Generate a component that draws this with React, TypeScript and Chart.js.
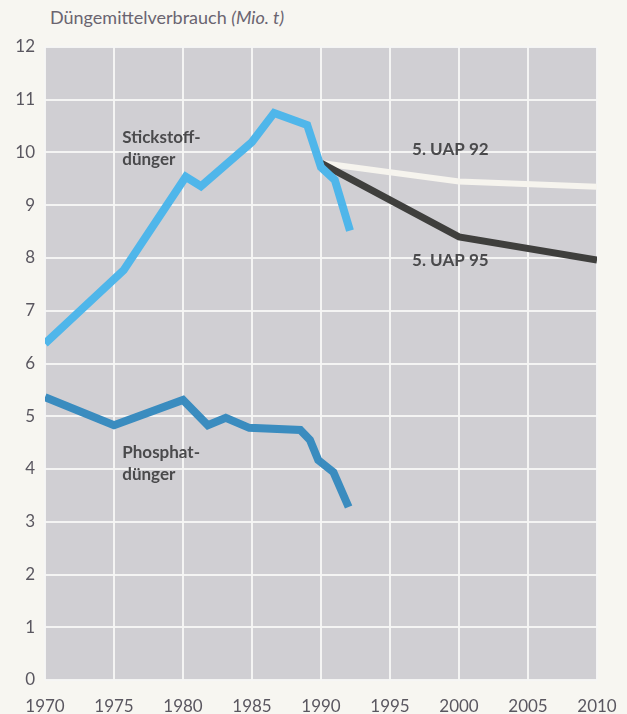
import React, { useEffect, useRef } from "react";
import { Chart, registerables } from "chart.js";

Chart.register(...registerables);

const xTicks = [1970, 1975, 1980, 1985, 1990, 1995, 2000, 2005, 2010];
const yTicks = [0, 1, 2, 3, 4, 5, 6, 7, 8, 9, 10, 11, 12];

const stickYears = [1970, 1975.7, 1980.2, 1981.3, 1985, 1986.6, 1989, 1990, 1991, 1992.1];
const stickValues = [6.38, 7.77, 9.54, 9.36, 10.2, 10.75, 10.52, 9.72, 9.48, 8.52];

const phosYears = [1970, 1975, 1980, 1981.8, 1983.1, 1984.8, 1988.5, 1989.2, 1989.8, 1990.9, 1992];
const phosValues = [5.36, 4.83, 5.31, 4.83, 4.97, 4.78, 4.74, 4.55, 4.17, 3.94, 3.28];

const uap92Years = [1990, 2000, 2010];
const uap92Values = [9.8, 9.45, 9.35];

const uap95Years = [1990, 2000, 2010];
const uap95Values = [9.8, 8.4, 7.96];

const toPoints = (xs: number[], ys: number[]) => xs.map((x, i) => ({ x, y: ys[i] }));

const bgPlugin = {
  id: "plotBg",
  beforeDraw(chart: any) {
    const { ctx, chartArea } = chart;
    ctx.save();
    ctx.fillStyle = "#d0cfd3";
    ctx.fillRect(chartArea.left, chartArea.top, chartArea.right - chartArea.left, chartArea.bottom - chartArea.top);
    ctx.restore();
  },
};

const labelPlugin = {
  id: "seriesLabels",
  afterDatasetsDraw(chart: any) {
    const { ctx, scales } = chart;
    const xs = scales.x;
    const ys = scales.y;
    const labels: [string, number, number][] = [
      ["Stickstoff-", 1975.6, 10.29],
      ["dünger", 1975.6, 9.86],
      ["Phosphat-", 1975.6, 4.32],
      ["dünger", 1975.6, 3.89],
      ["5. UAP 92", 1996.6, 10.05],
      ["5. UAP 95", 1996.6, 7.96],
    ];
    ctx.save();
    ctx.font = "bold 17px Lato";
    ctx.fillStyle = "#4a4a4c";
    ctx.textAlign = "left";
    ctx.textBaseline = "middle";
    for (const [t, x, y] of labels) {
      ctx.fillText(t, xs.getPixelForValue(x), ys.getPixelForValue(y));
    }
    ctx.restore();
  },
};

export default function App() {
  const ref = useRef<HTMLCanvasElement | null>(null);

  useEffect(() => {
    if (!ref.current) return;
    const chart = new Chart(ref.current, {
      type: "line",
      data: {
        datasets: [
          {
            label: "Stickstoffdünger",
            data: toPoints(stickYears, stickValues),
            borderColor: "#4fb6ea",
            borderWidth: 8,
            pointRadius: 0,
            order: 0,
          },
          {
            label: "Phosphatdünger",
            data: toPoints(phosYears, phosValues),
            borderColor: "#3a8cbf",
            borderWidth: 8,
            pointRadius: 0,
            order: 1,
          },
          {
            label: "5. UAP 95",
            data: toPoints(uap95Years, uap95Values),
            borderColor: "#3f3f3d",
            borderWidth: 7,
            pointRadius: 0,
            order: 2,
          },
          {
            label: "5. UAP 92",
            data: toPoints(uap92Years, uap92Values),
            borderColor: "#f6f4ee",
            borderWidth: 6,
            pointRadius: 0,
            order: 3,
          },
        ],
      },
      options: {
        animation: false,
        responsive: false,
        parsing: false as any,
        layout: { padding: { left: 0, right: 30, top: 47, bottom: 0 } },
        plugins: {
          legend: { display: false },
          tooltip: { enabled: false },
          title: { display: false },
        },
        scales: {
          x: {
            type: "linear",
            min: 1970,
            max: 2010,
            afterBuildTicks: (s: any) => {
              s.ticks = xTicks.map((v) => ({ value: v }));
            },
            afterFit: (s: any) => {
              s.height = 34;
              s.paddingLeft = 0;
              s.paddingRight = 0;
            },
            grid: { color: "rgba(246,246,244,0.95)", lineWidth: 2, drawTicks: false },
            border: { display: false },
            ticks: {
              font: { family: "Lato", size: 17 },
              color: "#5a5760",
              padding: 16,
              maxRotation: 0,
              autoSkip: false,
              callback: (v: any) => String(v),
            },
          },
          y: {
            type: "linear",
            min: 0,
            max: 12,
            afterBuildTicks: (s: any) => {
              s.ticks = yTicks.map((v) => ({ value: v }));
            },
            afterFit: (s: any) => {
              s.width = 45;
              s.paddingTop = 0;
              s.paddingBottom = 0;
            },
            grid: { color: "rgba(246,246,244,0.95)", lineWidth: 2, drawTicks: false },
            border: { display: false },
            ticks: {
              font: { family: "Lato", size: 17 },
              color: "#5a5760",
              padding: 10,
              autoSkip: false,
            },
          },
        },
      },
      plugins: [bgPlugin, labelPlugin],
    });
    return () => chart.destroy();
  }, []);

  return (
    <div style={{ position: "absolute", left: 0, top: 0, width: 627, height: 714, background: "#f7f6f1", overflow: "hidden" }}>
      <div
        style={{
          position: "absolute",
          left: 50,
          top: 5,
          fontFamily: "Lato",
          fontSize: 18,
          color: "#6a6470",
          whiteSpace: "nowrap",
          lineHeight: "24px",
        }}
      >
        Düngemittelverbrauch <i>(Mio. t)</i>
      </div>
      <canvas ref={ref} width={627} height={714} style={{ position: "absolute", left: 0, top: 0, width: 627, height: 714 }} />
    </div>
  );
}
